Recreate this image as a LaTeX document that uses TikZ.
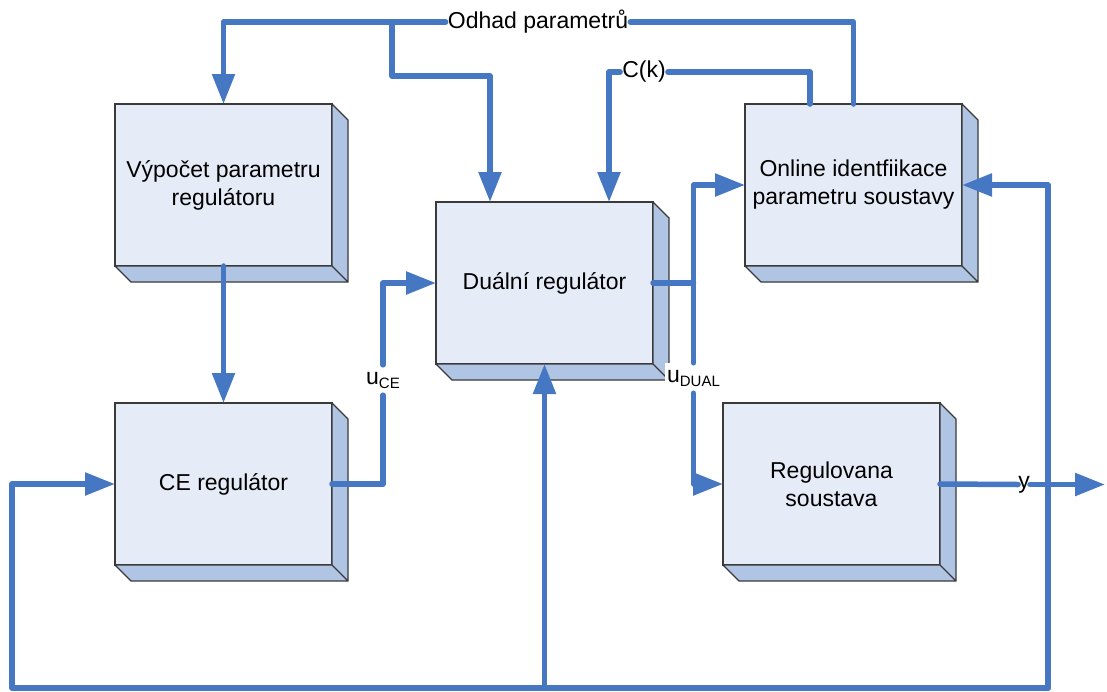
\documentclass[tikz,border=0pt]{standalone}
\usepackage{fontspec}
\setmainfont{Liberation Sans}
\usetikzlibrary{positioning,arrows.meta}
\definecolor{wireblue}{HTML}{4677C3}
\definecolor{frontfill}{HTML}{E6ECF7}
\definecolor{sidefill}{HTML}{B0C4E4}
\definecolor{edgegray}{HTML}{3A3A3A}
\begin{document}
\begin{tikzpicture}[x=1pt, y=-1pt,
	block node/.style={rectangle, draw=edgegray, line width=1.3pt, fill=frontfill,
		minimum width=217pt, minimum height=162pt, outer sep=0pt, inner sep=2pt,
		align=center, font=\fontsize{23}{28}\selectfont},
	label node/.style={fill=white, inner sep=2pt, minimum height=30pt,
		font=\fontsize{23}{28}\selectfont},
	wire/.style={draw=wireblue, line width=5.5pt, line cap=round, line join=round},
	wire to/.style={wire, -{Triangle[length=30pt,width=22pt]}}]
	
	\useasboundingbox (0,0) rectangle (1107,691);
	
	\node[block node] (vyp) at (223.5,185) {Výpočet parametru\\regulátoru};
	\node[block node] (ce) [below=137pt of vyp] {CE regulátor};
	\node[block node] (online) [right=413pt of vyp] {Online identfiikace\\parametru soustavy};
	\node[block node] (sous) [right=391pt of ce] {Regulovana\\soustava};
	\node[block node] (dual) at (544.5,283) {Duální regulátor};
	
	% side and bottom faces
	\foreach \n in {vyp,ce,dual,online,sous}{
		\filldraw[fill=sidefill, draw=edgegray, line width=1.3pt, line join=round]
		(\n.north east) -- ++(16,16) -- ([shift={(16,16)}]\n.south east) -- (\n.south east) -- cycle
		(\n.south west) -- ++(16,16) -- ([shift={(16,16)}]\n.south east) -- (\n.south east) -- cycle;
	}
	
	\node[label node] (odhad) at (538,22) {Odhad parametrů};
	\node[label node] (ck) at (644,72) {C(k)};
	\node[label node] (uce) at (383,380) {u\raisebox{-4pt}{\fontsize{15}{15}\selectfont CE}};
	\node[label node] (udual) at (693.5,378) {u\raisebox{-4pt}{\fontsize{15}{15}\selectfont DUAL}};
	\node[label node, inner xsep=0pt] (ylbl) at (1024,484.5) {y};
	\coordinate (out) at (1105,484.5);
	\coordinate (odj) at (392,22);
	\coordinate (fb) at (1048,688);
	\coordinate (fbl) at (12,688);
	
	% parameter estimate
	\draw[wire] (online.north) |- (odhad.east);
	\draw[wire to] (odhad.west) -| (vyp.north);
	\draw[wire to] (odj) -- ++(0,54) -| ([xshift=54pt]dual.north west);
	
	% C(k)
	\draw[wire] ([xshift=65pt]online.north west) |- (ck.east);
	\draw[wire to] (ck.west) -| ([xshift=173pt]dual.north west);
	
	\draw[wire to] (vyp.south) -- (ce.north);
	
	% u_CE
	\draw[wire] (ce.east) -| (uce.south);
	\draw[wire to] (uce.north) |- (dual.west);
	
	% u_DUAL
	\draw[wire] (dual.east) -- (dual.east -| udual);
	\draw[wire to] (udual.north) |- (online.west);
	\draw[wire to] (udual.south) |- (sous.west);
	
	% output y
	\draw[wire] (sous.east) -- (ylbl.west);
	\draw[wire to] (ylbl.east) -- (out);
	
	% feedback
	\draw[wire to] (fb) |- (online.east);
	\draw[wire to] (fb) -- (fbl) |- (ce.west);
	\draw[wire to] (fbl -| dual.south) -- (dual.south);
	
\end{tikzpicture}
\end{document}
